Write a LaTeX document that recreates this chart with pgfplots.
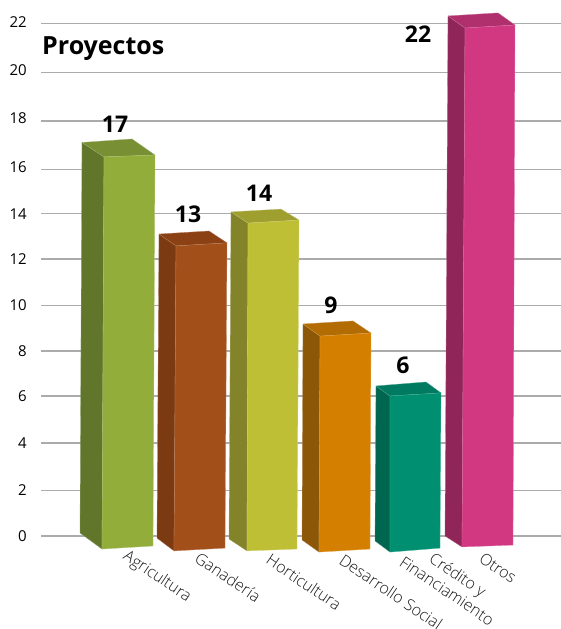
\documentclass[border=0pt]{standalone}
\usepackage{fontspec}
\setmainfont{Open Sans}
\newfontfamily\lightf{Open Sans Light}
\usepackage{pgfplots}
\pgfplotsset{compat=1.18}

% colours: front, side, top of each bar
\definecolor{agrF}{HTML}{93AD3A}\definecolor{agrS}{HTML}{62762B}\definecolor{agrT}{HTML}{788F33}
\definecolor{ganF}{HTML}{A24F1A}\definecolor{ganS}{HTML}{7B3A12}\definecolor{ganT}{HTML}{8C4114}
\definecolor{horF}{HTML}{BFBF36}\definecolor{horS}{HTML}{838429}\definecolor{horT}{HTML}{9E9F2E}
\definecolor{desF}{HTML}{D57F00}\definecolor{desS}{HTML}{8C5707}\definecolor{desT}{HTML}{B36B03}
\definecolor{creF}{HTML}{008F70}\definecolor{creS}{HTML}{00664F}\definecolor{creT}{HTML}{007A60}
\definecolor{otrF}{HTML}{D13881}\definecolor{otrS}{HTML}{8F2558}\definecolor{otrT}{HTML}{B0306E}

\pgfplotsset{
  face/.style={fill=#1, draw=#1!70!white, line width=0.3pt, mark=none, forget plot},
}
\tikzset{
  cat/.style={font=\lightf\fontsize{16}{16}\selectfont, text=black!90, rotate=-34, anchor=center, inner sep=0pt},
  val/.style={font=\bfseries\fontsize{23}{23}\selectfont, text=black, anchor=center, inner sep=0pt},
}

\begin{document}
\begin{tikzpicture}[x=1pt,y=1pt]
\path[use as bounding box] (0,0) rectangle (561,629);
\begin{axis}[
    at={(41pt,0pt)}, anchor=south west,
    scale only axis, width=520pt, height=629pt,
    xmin=41, xmax=561, ymin=-3.991, ymax=23.004,
    clip=false,
    axis x line=none,
    axis y line=left,
    y axis line style={draw=none},
    major tick length=0pt,
    ytick={0,1.97,3.99,6.01,7.94,9.91,11.89,13.83,15.72,17.81,19.88,22},
    yticklabels={0,2,4,6,8,10,12,14,{\raisebox{5pt}{16}},{\raisebox{6pt}{18}},{\raisebox{6pt}{20}},{\raisebox{3pt}{22}}},
    yticklabel style={font=\fontsize{15}{15}\selectfont, text=black, inner sep=0pt, xshift=-14pt},
    ymajorgrids,
    grid style={draw=black!33, line width=1.1pt},
]
% Agricultura (17)
\addplot[face=agrS] coordinates {(82,16.89) (104,16.27) (102,-0.56) (80,0.13)} --cycle;
\addplot[face=agrT] coordinates {(82,16.89) (132,17.04) (155,16.35) (104,16.27)} --cycle;
\addplot[face=agrF] coordinates {(104,16.27) (155,16.35) (153,-0.43) (102,-0.56)} --cycle;
% Ganaderia (13)
\addplot[face=ganS] coordinates {(159,12.96) (176,12.45) (174,-0.64) (157,-0.09)} --cycle;
\addplot[face=ganT] coordinates {(159,12.96) (209,13.09) (227,12.58) (176,12.45)} --cycle;
\addplot[face=ganF] coordinates {(176,12.45) (227,12.58) (225,-0.52) (174,-0.64)} --cycle;
% Horticultura (14)
\addplot[face=horS] coordinates {(231,13.91) (248,13.43) (247,-0.64) (229,-0.13)} --cycle;
\addplot[face=horT] coordinates {(231,13.91) (281,14.03) (299,13.56) (248,13.43)} --cycle;
\addplot[face=horF] coordinates {(248,13.43) (299,13.56) (297,-0.56) (247,-0.64)} --cycle;
% Desarrollo Social (9)
\addplot[face=desS] coordinates {(303,9.10) (320,8.58) (319,-0.69) (302,-0.17)} --cycle;
\addplot[face=desT] coordinates {(303,9.10) (353,9.23) (371,8.71) (320,8.58)} --cycle;
\addplot[face=desF] coordinates {(320,8.58) (371,8.71) (370,-0.56) (319,-0.69)} --cycle;
% Credito y Financiamiento (6)
\addplot[face=creS] coordinates {(376,6.44) (390,6.01) (390,-0.69) (375,-0.21)} --cycle;
\addplot[face=creT] coordinates {(376,6.44) (426,6.61) (441,6.14) (390,6.01)} --cycle;
\addplot[face=creF] coordinates {(390,6.01) (441,6.14) (440,-0.52) (390,-0.69)} --cycle;
% Otros (22)
\addplot[face=otrS] coordinates {(448,22.32) (465,21.80) (462,-0.47) (445,0)} --cycle;
\addplot[face=otrT] coordinates {(448,22.32) (498,22.45) (515,21.93) (465,21.80)} --cycle;
\addplot[face=otrF] coordinates {(465,21.80) (515,21.93) (513,-0.39) (462,-0.47)} --cycle;

\node[val] at (axis cs:115,17.68) {17};
\node[val] at (axis cs:188,13.82) {13};
\node[val] at (axis cs:259,14.72) {14};
\node[val] at (axis cs:331,9.91) {9};
\node[val] at (axis cs:403,7.34) {6};
\node[val] at (axis cs:418,21.55) {22};
\node[font=\bfseries\fontsize{25}{25}\selectfont, anchor=west, inner sep=0pt] at (axis cs:42,20.9) {Proyectos};

\node[cat] at (axis cs:157,-1.76) {Agricultura};
\node[cat] at (axis cs:228,-1.76) {Ganadería};
\node[cat] at (axis cs:304,-1.97) {Horticultura};
\node[cat] at (axis cs:391,-2.40) {Desarrollo Social};
\node[cat] at (axis cs:447,-2.36) {Financiamiento};
\node[cat] at (axis cs:457,-1.72) {Crédito y};
\node[cat] at (axis cs:498,-1.37) {Otros};
\end{axis}
\end{tikzpicture}
\end{document}
